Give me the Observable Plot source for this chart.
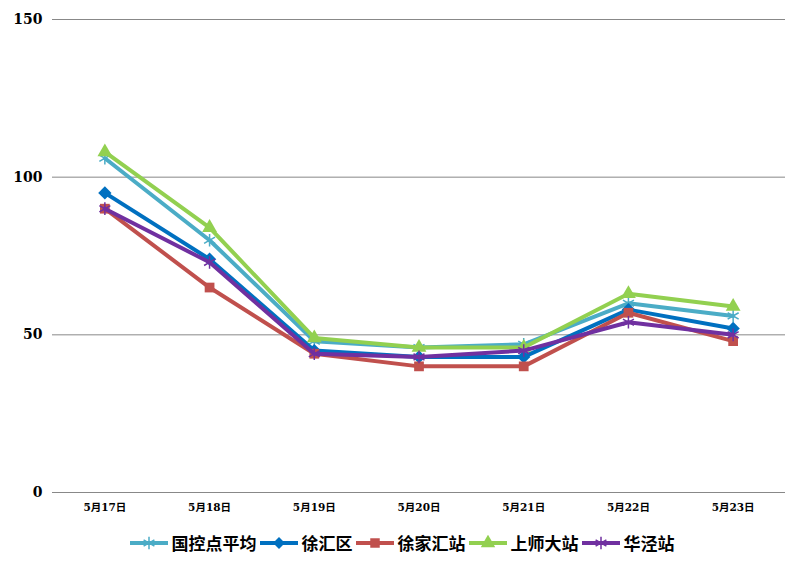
<!DOCTYPE html>
<html><head><meta charset="utf-8">
<script src="https://cdn.jsdelivr.net/npm/d3@7"></script>
<script src="https://cdn.jsdelivr.net/npm/@observablehq/plot@0.6"></script>
<style>
body{margin:0;background:#fff;}
#wrap{width:804px;height:572px;position:relative;}
#legend{display:flex;justify-content:center;align-items:center;gap:3px;margin-top:10px;font-family:"Noto Sans CJK SC",sans-serif;font-weight:bold;font-size:17px;color:#000;}
#legend .item{display:flex;align-items:center;gap:4px;}
</style></head>
<body><div id="wrap"><div id="chart"></div><div id="legend"></div></div>
<script>
const dates = ["5月17日","5月18日","5月19日","5月20日","5月21日","5月22日","5月23日"];
const seriesNames = ["国控点平均","徐汇区","徐家汇站","上师大站","华泾站"];
const guokong = [106, 80, 48, 46, 47, 60, 56];
const xuhui = [95, 74, 45, 43, 43, 58, 52];
const xujiahui = [90, 65, 44, 40, 40, 57, 48];
const shangshida = [108, 84, 49, 46, 46, 63, 59];
const huajing = [90, 73, 44, 43, 45, 54, 50];
const yTicks = [0, 50, 100, 150];
const colors = ["#4BACC6","#0070C0","#C0504D","#92D050","#7030A0"];
const symbols = ["asterisk","diamond2","square","triangle","asterisk"];

const allValues = [guokong, xuhui, xujiahui, shangshida, huajing];
const data = [];
allValues.forEach((vals, i) => vals.forEach((v, j) => data.push({series: seriesNames[i], date: dates[j], value: v})));

const marks = [
  Plot.ruleY(yTicks, {stroke: "#888", strokeWidth: 1})
];
seriesNames.forEach((s, i) => {
  const d = data.filter(r => r.series === s);
  marks.push(Plot.line(d, {x: "date", y: "value", stroke: colors[i], strokeWidth: 4}));
  const isStroke = symbols[i] === "asterisk";
  marks.push(Plot.dot(d, {x: "date", y: "value", symbol: () => symbols[i], r: isStroke ? 6 : (symbols[i]==="diamond2" ? 6 : 5.5),
    fill: isStroke ? "none" : colors[i], stroke: colors[i], strokeWidth: isStroke ? 1.5 : 0}));
});

const chart = Plot.plot({
  width: 804, height: 520,
  marginTop: 19, marginBottom: 28, marginLeft: 52, marginRight: 19,
  x: {type: "point", domain: dates, padding: 0.5, round: false, label: null, tickSize: 0, tickPadding: 10},
  y: {domain: [0, 150], ticks: yTicks, label: null, tickSize: 0, tickPadding: 10},
  style: {fontFamily: "'DejaVu Serif','Noto Sans CJK SC',serif", fontWeight: "bold", color: "#000"},
  marks: [
    ...marks,
    Plot.axisY({ticks: yTicks, tickSize: 0, tickPadding: 10, fontSize: 14, label: null}),
    Plot.axisX({tickSize: 0, tickPadding: 11, fontSize: 10.5, label: null})
  ]
});
document.getElementById("chart").appendChild(chart);

const legend = document.getElementById("legend");
const symMap = {asterisk: d3.symbolAsterisk, diamond2: d3.symbolDiamond2, square: d3.symbolSquare, triangle: d3.symbolTriangle};
seriesNames.forEach((s, i) => {
  const item = document.createElement("div"); item.className = "item";
  const sym = d3.symbol().type(symMap[symbols[i]]).size(symbols[i]==="asterisk"?110:90)();
  const isStroke = symbols[i] === "asterisk";
  item.innerHTML = `<svg width="38" height="16"><line x1="0" x2="38" y1="8" y2="8" stroke="${colors[i]}" stroke-width="4"/><path transform="translate(19,8)" d="${sym}" fill="${isStroke?'none':colors[i]}" stroke="${colors[i]}" stroke-width="${isStroke?1.5:0}"/></svg><span>${s}</span>`;
  legend.appendChild(item);
});
</script></body></html>
